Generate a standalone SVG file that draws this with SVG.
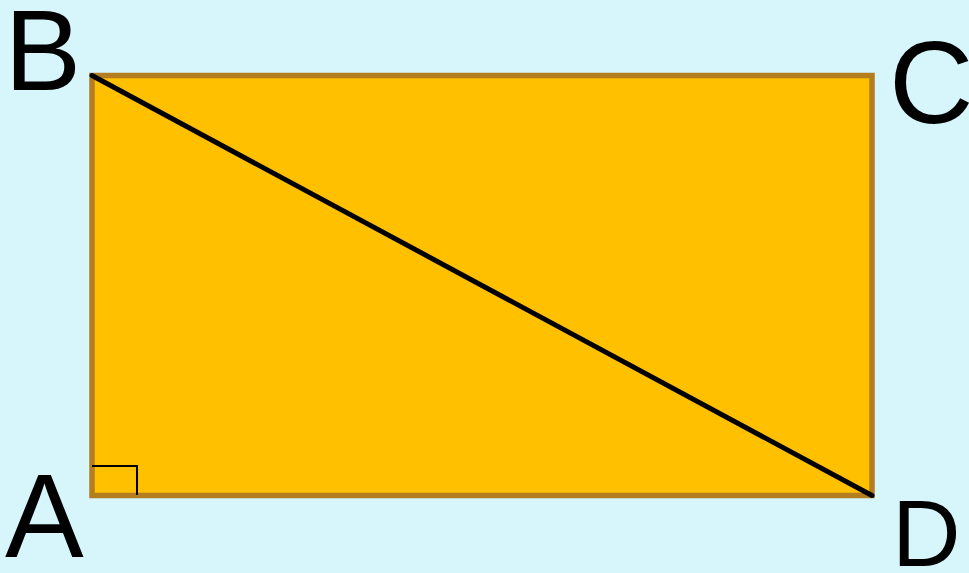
<svg xmlns="http://www.w3.org/2000/svg" width="969" height="573" viewBox="0 0 969 573">
<style>
.lbl{font-family:"Liberation Sans",Arial,sans-serif;fill:#000}
</style>
<rect x="0" y="0" width="969" height="573" fill="#d7f6fc"/>
<g id="rectangle">
<rect x="92" y="75.5" width="780" height="420" fill="#ffc000" stroke="#b47d1f" stroke-width="5.5"/>
</g>
<g id="connectors">
<line x1="92" y1="75.5" x2="872" y2="495.5" stroke="#000" stroke-width="5" stroke-linecap="round"/>
<polyline points="92,466 137,466 137,495" fill="none" stroke="#000" stroke-width="2"/>
</g>
<g id="labelB"><text class="lbl" x="4.5" y="90" font-size="115">B</text></g>
<g id="labelC"><text class="lbl" x="889" y="123" font-size="117">C</text></g>
<g id="labelA"><text class="lbl" x="5" y="557" font-size="118">A</text></g>
<g id="labelD"><text class="lbl" x="892" y="566" font-size="95">D</text></g>
</svg>
